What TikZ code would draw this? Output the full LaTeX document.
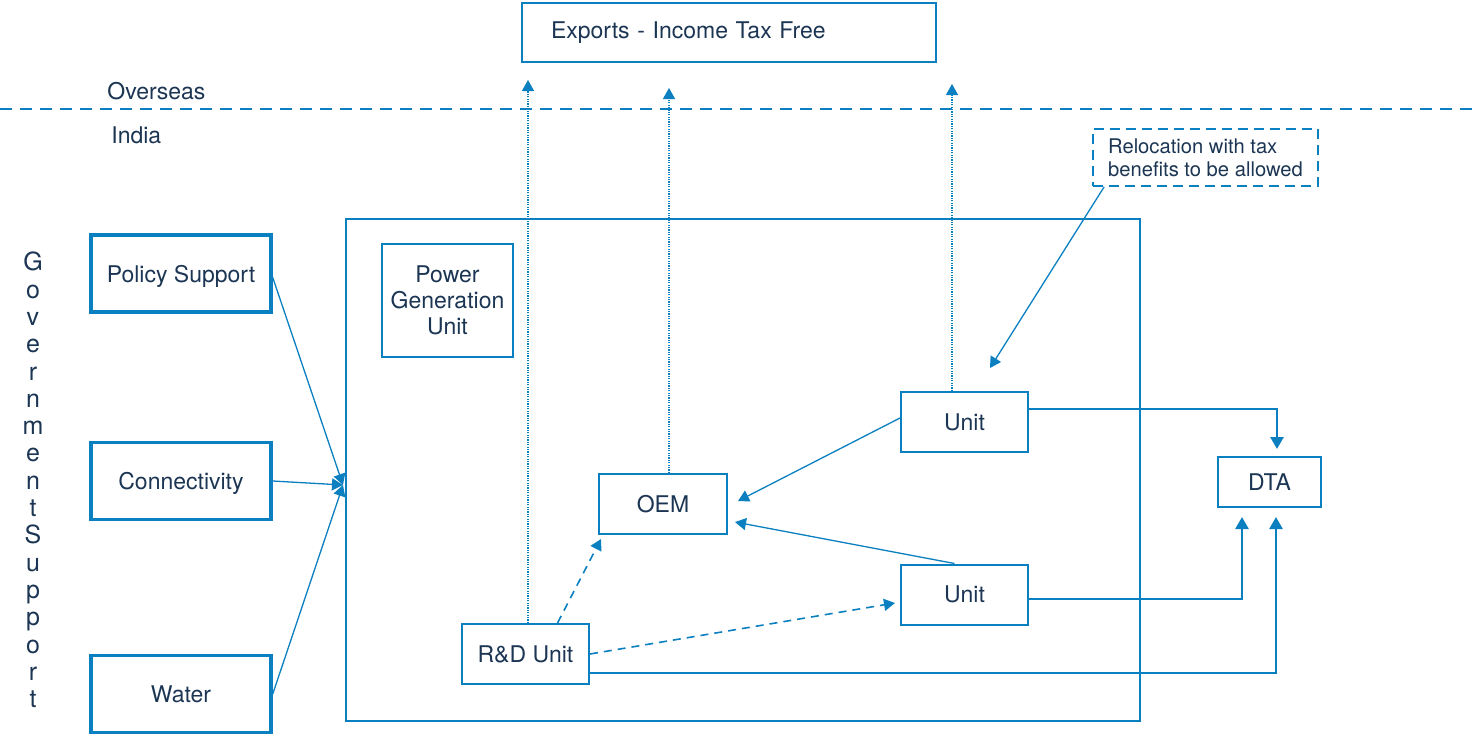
\documentclass[tikz,border=0pt]{standalone}
\usepackage{fontspec}
\setmainfont{TeX Gyre Heros}
\usetikzlibrary{arrows.meta}

\definecolor{lineblue}{HTML}{0A80C0}
\definecolor{textnavy}{HTML}{1B3553}

\begin{document}
\begin{tikzpicture}[x=0.5pt, y=-0.5pt, font=\fontsize{11.5}{13}\selectfont, text=textnavy]
	\tikzstyle{box_base} = [rectangle, draw=lineblue, inner sep=0pt, align=center]
	\tikzstyle{box_thick} = [box_base, line width=1.75pt, minimum width=90pt, minimum height=38.5pt, text depth=0pt]
	\tikzstyle{box_mid} = [box_base, line width=1.25pt]
	\tikzstyle{box_thin} = [box_base, line width=1pt, minimum width=63.5pt, minimum height=30pt, text depth=0pt]
	\tikzstyle{box_dashed} = [box_base, line width=0.85pt, dash pattern=on 5pt off 3pt]
	\tikzstyle{link_thin} = [draw=lineblue, line width=0.65pt, -{Triangle[width=6pt,length=5.5pt]}]
	\tikzstyle{link_dotted} = [link_thin, dash pattern=on 0.6pt off 0.6pt]
	\tikzstyle{link_dashed} = [link_thin, line width=0.8pt, dash pattern=on 4pt off 3pt]
	\tikzstyle{link_elbow} = [draw=lineblue, line width=1.3pt, -{Triangle[width=6.5pt,length=6pt]}]

	\useasboundingbox (0,0) rectangle (1479,734);

%------------------------------------------------------------
	\node[box_mid, minimum width=207pt, minimum height=29.5pt, text width=178pt, inner xsep=14.5pt, align=left] (exports) at (729,32.5) {Exports - Income Tax Free};

	\coordinate (borderL) at (0,109);
	\coordinate (borderR) at (1479,109);
	\draw[lineblue, line width=1pt, dash pattern=on 6pt off 4pt] (borderL) -- (borderR);

	\node[anchor=west, inner sep=0pt] (overseas) at (107,91) {Overseas};
	\node[anchor=west, inner sep=0pt] (india) at (111,135) {India};

%------------------------------------------------------------

	\node[align=center, inner sep=0pt, font=\fontsize{12.5}{13.65}\selectfont] (govt) at (33,480) {G\\o\\v\\e\\r\\n\\m\\e\\n\\t\\S\\u\\p\\p\\o\\r\\t};

	\node[box_thick] (policy) at (181,273.5) {Policy Support};
	\node[box_thick] (connect) at (181,481) {Connectivity};
	\node[box_thick] (water) at (181,694) {Water};

%------------------------------------------------------------

	\node[box_mid, minimum width=397pt, minimum height=251pt] (zone) at (743,470) {};

	\node[box_thin, minimum width=65.5pt, minimum height=56.5pt] (power) at (447.5,300.5) {Power\\Generation\\Unit};

	\node[box_thin] (unitA) at (964.5,422) {Unit};
	\node[box_thin] (unitB) at (964.5,594.5) {Unit};
	\node[box_thin, minimum width=64pt] (oem) at (663,504) {OEM};
	\node[box_thin] (rnd) at (525.5,654) {R\&D Unit};
	\node[box_thin, minimum width=51.5pt, minimum height=25pt] (dta) at (1269.5,482) {DTA};

	\node[box_dashed, minimum width=112.5pt, minimum height=28.5pt, align=left, font=\fontsize{10.1}{11.5}\selectfont] (reloc) at (1205.5,157.5) {Relocation with tax\\benefits to be allowed};

%------------------------------------------------------------

	\coordinate (hub) at (343,485);
	\draw[link_thin] ([yshift=-2pt]policy.east) -- (hub);
	\draw[link_thin] (connect.east) -- (hub);
	\draw[link_thin] (water.east) -- (hub);

	\coordinate (exportIn1) at (528,80);
	\coordinate (exportIn2) at (669,88);
	\coordinate (exportIn3) at (952,84);
	\draw[link_dotted] (rnd.north -| exportIn1) -- (exportIn1);
	\draw[link_dotted] (oem.north -| exportIn2) -- (exportIn2);
	\draw[link_dotted] (unitA.north -| exportIn3) -- (exportIn3);

	\coordinate (relocIn) at (990,368);
	\draw[link_thin] ([xshift=6pt]reloc.south west) -- (relocIn);

	\coordinate (oemIn1) at (738,501);
	\coordinate (oemIn2) at (735,522);
	\coordinate (oemIn3) at (601,539);
	\coordinate (unitBIn) at (895,603);
	\draw[link_thin] ([yshift=2pt]unitA.west) -- (oemIn1);
	\draw[link_thin] ([xshift=-5pt]unitB.north) -- (oemIn2);
	\draw[link_dashed] ([xshift=16pt]rnd.north) -- (oemIn3);
	\draw[link_dashed] (rnd.east) -- (unitBIn);

	\coordinate (dtaIn1) at (1277,449);
	\coordinate (dtaIn2) at (1242,517);
	\coordinate (dtaIn3) at (1276,517);
	\draw[link_elbow] ([yshift=6.5pt]unitA.east) -| (dtaIn1);
	\draw[link_elbow] ([yshift=-2.25pt]unitB.east) -| (dtaIn2);
	\draw[link_elbow] ([yshift=-9.5pt]rnd.east) -| (dtaIn3);

\end{tikzpicture}
\end{document}
